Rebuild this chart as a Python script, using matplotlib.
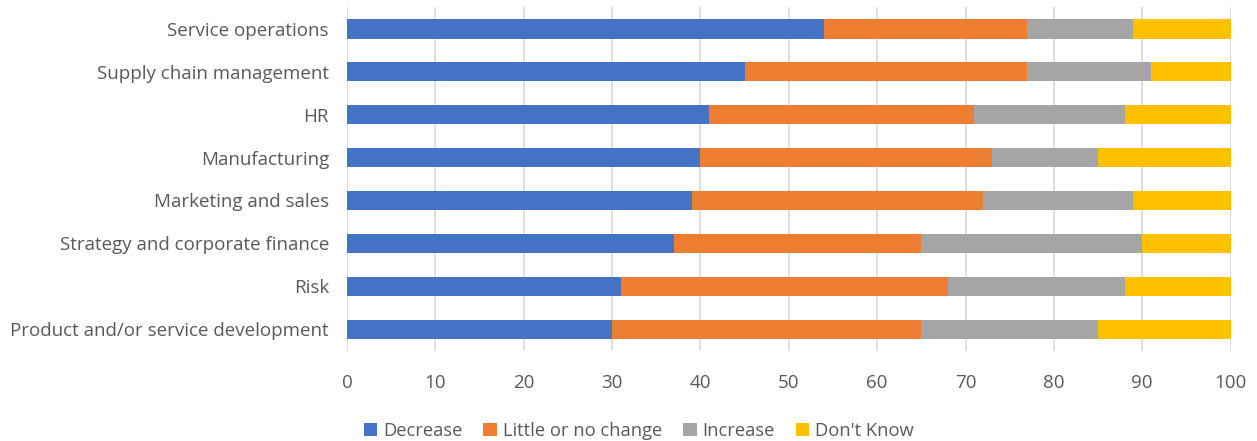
import numpy as np
import matplotlib.pyplot as plt

plt.rcParams['font.family'] = ['Open Sans', 'DejaVu Sans']

# Functions, top to bottom as listed
functions = [
    "Service operations",
    "Supply chain management",
    "HR",
    "Manufacturing",
    "Marketing and sales",
    "Strategy and corporate finance",
    "Risk",
    "Product and/or service development",
]
decrease = [54, 45, 41, 40, 39, 37, 31, 30]
little_change = [23, 32, 30, 33, 33, 28, 37, 35]
increase = [12, 14, 17, 12, 17, 25, 20, 20]
dont_know = [11, 9, 12, 15, 11, 10, 12, 15]

series = [
    ("Decrease", decrease, "#4472C4"),
    ("Little or no change", little_change, "#ED7D31"),
    ("Increase", increase, "#A5A5A5"),
    ("Don't Know", dont_know, "#FFC000"),
]

fig = plt.figure(figsize=(12.57, 4.41), dpi=100)
ax = fig.add_axes([0.276, 0.205, 0.703, 0.778])

y = np.arange(len(functions))[::-1]
left = np.zeros(len(functions))
for name, vals, col in series:
    ax.barh(y, vals, left=left, height=0.45, color=col, label=name, zorder=3)
    left += np.array(vals)

ax.set_xlim(0, 100)
ax.set_ylim(-0.5, len(functions) - 0.5)
ax.set_xticks(np.arange(0, 101, 10))
ax.set_yticks(y)
ax.set_yticklabels(functions)
ax.grid(axis='x', color='#D9D9D9', linewidth=1.2, zorder=0)
for s in ax.spines.values():
    s.set_visible(False)
ax.tick_params(axis='both', length=0, labelsize=13.5, colors='#595959')
ax.tick_params(axis='x', pad=17)
ax.tick_params(axis='y', pad=13)

fig.legend(loc='lower center', bbox_to_anchor=(0.508, -0.035), ncol=4, frameon=False,
           fontsize=13.2, handlelength=0.75, handleheight=0.75, handletextpad=0.3,
           columnspacing=1.15, labelcolor='#595959')

fig.savefig("out.png", dpi=100)
